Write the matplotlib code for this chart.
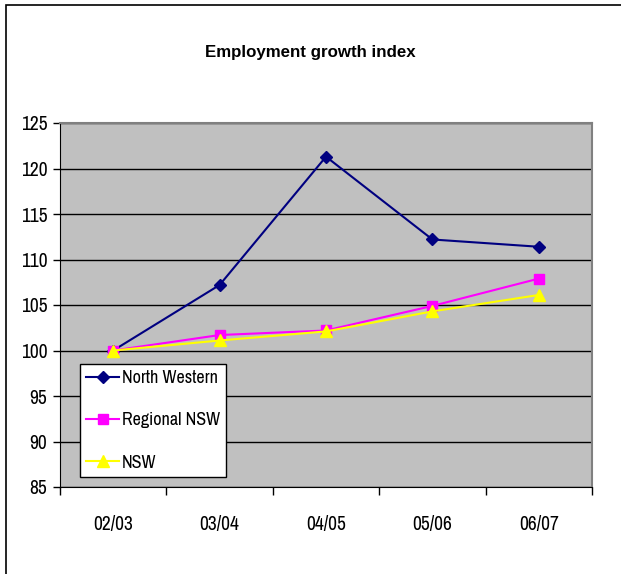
import matplotlib.pyplot as plt
from matplotlib.patches import Rectangle
from matplotlib.ticker import FixedLocator, NullFormatter

# narrow sans for ticks/legend (the chart uses Arial Narrow)
NARROW = ['Archivo Narrow', 'Roboto Condensed', 'Liberation Sans', 'DejaVu Sans']
plt.rcParams['font.family'] = NARROW

# data
years = ['02/03', '03/04', '04/05', '05/06', '06/07']
north_western = [100, 107.2, 121.3, 112.2, 111.4]
regional_nsw = [100, 101.7, 102.2, 104.9, 107.9]
nsw = [100, 101.1, 102.1, 104.3, 106.1]

fig = plt.figure(figsize=(6.21, 5.74), dpi=100)
# outer chart border (only left/top visible in the picture)
fig.patches.append(Rectangle((6 / 621, -0.05), 1.2, (574 - 5) / 574 + 0.05,
                             transform=fig.transFigure, fill=False,
                             edgecolor='black', linewidth=1.2))

ax = fig.add_axes([60 / 621, (574 - 487) / 574, 532 / 621, 364 / 574])
ax.set_facecolor('#c0c0c0')

x = [i + 0.5 for i in range(len(years))]
ax.plot(x, north_western, color='#000080', marker='D', markersize=6, lw=1.5,
        label='North Western')
ax.plot(x, regional_nsw, color='#ff00ff', marker='s', markersize=7, lw=1.5,
        label='Regional NSW')
ax.plot(x, nsw, color='#ffff00', marker='^', markersize=8, lw=1.5,
        label='NSW')

ax.set_xlim(0, len(years))
ax.set_ylim(85, 125)
ax.set_yticks(range(85, 126, 5))
ax.yaxis.grid(True, color='black', lw=1)
ax.set_axisbelow(True)

# category boundaries as major ticks, labels at centres
ax.xaxis.set_major_locator(FixedLocator(range(len(years) + 1)))
ax.xaxis.set_major_formatter(NullFormatter())
ax.xaxis.set_minor_locator(FixedLocator(x))
ax.set_xticklabels(years, minor=True)
ax.tick_params(axis='x', which='major', length=6, width=1, direction='out')
ax.tick_params(axis='x', which='minor', length=0, pad=20, labelsize=14)
ax.tick_params(axis='y', length=5, width=1, pad=4, labelsize=14)

for s in ['top', 'right']:
    ax.spines[s].set_color('#808080')
    ax.spines[s].set_linewidth(1.5)
for s in ['left', 'bottom']:
    ax.spines[s].set_color('black')

fig.text(0.5, 1 - 52 / 574, 'Employment growth index', ha='center', va='center',
         fontsize=12.2, fontweight='bold', family=['Liberation Sans', 'DejaVu Sans'])

leg = ax.legend(loc='lower left', bbox_to_anchor=(20 / 532, 10 / 364),
                fontsize=13, fancybox=False, framealpha=1, edgecolor='black',
                borderpad=0.35, labelspacing=1.45, handlelength=1.8,
                handletextpad=0.15, borderaxespad=0)
leg.get_frame().set_linewidth(1)

fig.savefig('out.png', dpi=100)
